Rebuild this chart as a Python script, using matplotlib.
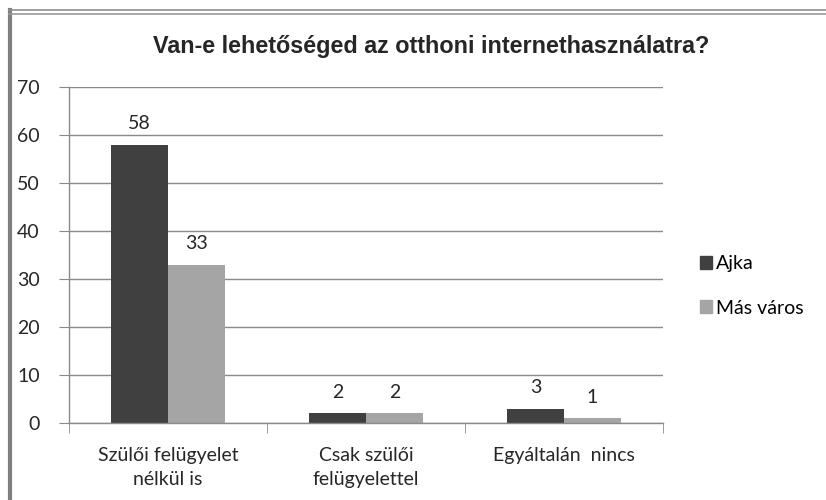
import matplotlib
matplotlib.use("Agg")
import matplotlib.pyplot as plt
import numpy as np
from matplotlib.lines import Line2D

categories = ["Szülői felügyelet\nnélkül is", "Csak szülői\nfelügyelettel", "Egyáltalán  nincs"]
series_names = ["Ajka", "Más város"]
ajka = [58, 2, 3]
mas_varos = [33, 2, 1]
yticks = [0, 10, 20, 30, 40, 50, 60, 70]
title = "Van-e lehetőséged az otthoni internethasználatra?"

colors = ["#404040", "#a5a5a5"]
body_font = ["Lato", "DejaVu Sans"]
title_font = ["Liberation Sans", "DejaVu Sans"]
txt_color = "#262626"

fig = plt.figure(figsize=(8.26, 5.0), dpi=100)
ax = fig.add_axes([69/826, 1-423/500, (663-69)/826, (423-87)/500])

x = np.arange(len(categories))
w = 0.286
b1 = ax.bar(x - w/2, ajka, width=w, color=colors[0], label=series_names[0])
b2 = ax.bar(x + w/2, mas_varos, width=w, color=colors[1], label=series_names[1])

for bars in (b1, b2):
    for r in bars:
        ax.annotate(f"{int(r.get_height())}", (r.get_x() + r.get_width()/2, r.get_height()),
                    xytext=(0, 9), textcoords="offset points", ha="center", va="bottom",
                    fontsize=14, family=body_font, color=txt_color)

ax.set_ylim(0, 70)
ax.set_xlim(-0.5, len(categories) - 0.5)
ax.set_yticks(yticks)
ax.set_yticklabels([str(v) for v in yticks], family=body_font, fontsize=14, color=txt_color)
ax.yaxis.grid(True, color="#8a8a8a", linewidth=1.0)
ax.set_axisbelow(True)

ax.set_xticks(x)
ax.set_xticklabels(categories, family=body_font, fontsize=14, color=txt_color, linespacing=1.55)
ax.tick_params(axis="x", length=0, pad=17)
ax.set_xticks([-0.5, 0.5, 1.5, 2.5], minor=True)
ax.tick_params(axis="x", which="minor", length=7, color="#8a8a8a", direction="out")
ax.tick_params(axis="y", length=7, color="#8a8a8a", pad=14)

for s in ("top", "right"):
    ax.spines[s].set_visible(False)
for s in ("left", "bottom"):
    ax.spines[s].set_color("#8a8a8a")
    ax.spines[s].set_linewidth(1.0)

fig.text(431/826, 1-46/500, title, ha="center", va="center", fontsize=16.8,
         fontweight="bold", family=title_font, color=txt_color)

handles = [plt.Rectangle((0, 0), 1, 1, color=c) for c in colors]
fig.legend(handles, series_names, loc="center left", bbox_to_anchor=(682/826, 1-286/500),
           frameon=False, prop={"family": body_font, "size": 14}, handlelength=0.65,
           handleheight=0.65, handletextpad=0.2, labelspacing=1.4)

# outer chart border (spreadsheet frame)
fig.add_artist(Line2D([10/826, 10/826], [0, 1-10/500], transform=fig.transFigure,
                      color="#7f7f7f", linewidth=3))
fig.add_artist(Line2D([9/826, 1], [1-10/500, 1-10/500], transform=fig.transFigure,
                      color="#8f8f8f", linewidth=1.2))
fig.add_artist(Line2D([9/826, 1], [1-14/500, 1-14/500], transform=fig.transFigure,
                      color="#9a9a9a", linewidth=1.2))

fig.savefig("out.png", dpi=100)
